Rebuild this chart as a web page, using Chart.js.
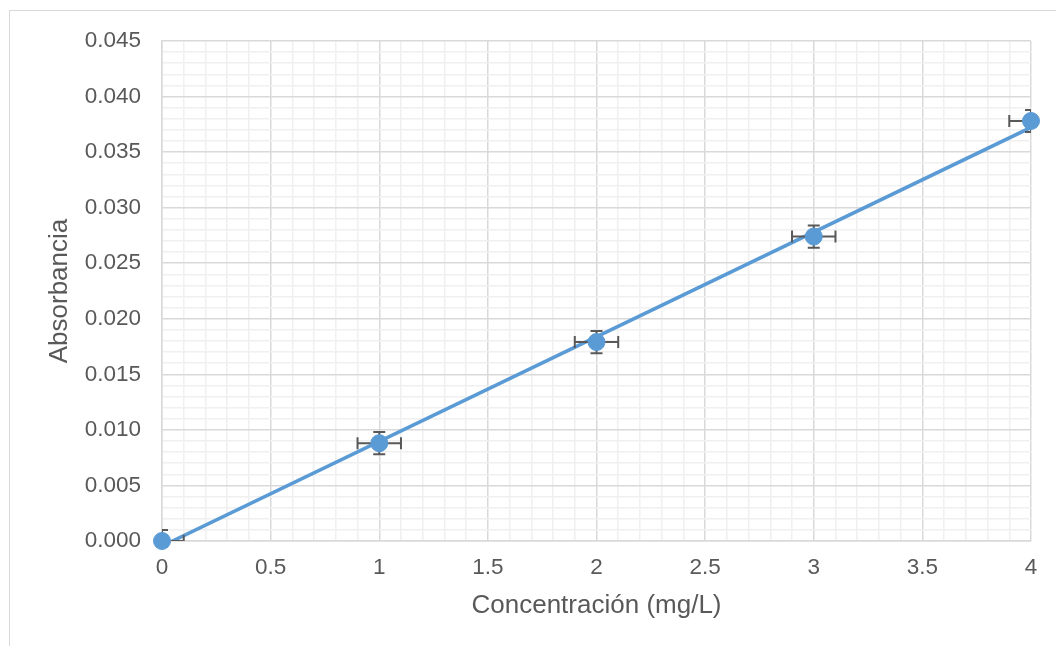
<!DOCTYPE html>
<html>
<head>
<meta charset="utf-8">
<script src="https://cdn.jsdelivr.net/npm/chart.js@4"></script>
<style>
  html, body { margin: 0; padding: 0; background: #ffffff; }
  #wrap { width: 1056px; height: 646px; }
</style>
</head>
<body>
<div id="wrap"><canvas id="grafico" width="1056" height="646"></canvas></div>
<script>
// datos
var concentracion = [0, 1, 2, 3, 4];
var absorbancia = [0.0000, 0.0088, 0.0179, 0.0274, 0.0378];
var errorX = [0.1, 0.1, 0.1, 0.1, 0.1];
var errorY = [0.001, 0.001, 0.001, 0.001, 0.001];
var ticksX = [0, 0.5, 1, 1.5, 2, 2.5, 3, 3.5, 4];
var ticksY = [0, 0.005, 0.01, 0.015, 0.02, 0.025, 0.03, 0.035, 0.04, 0.045];

var corTexto = '#595959';
var fonte = '"Liberation Sans", Arial, sans-serif';

// linea de tendencia (minimos cuadrados sobre los puntos)
function tendencia(xs, ys) {
    var n = xs.length, sx = 0, sy = 0, sxx = 0, sxy = 0;
    for (var i = 0; i < n; i++) {
        sx += xs[i]; sy += ys[i];
        sxx += xs[i] * xs[i]; sxy += xs[i] * ys[i];
    }
    var m = (n * sxy - sx * sy) / (n * sxx - sx * sx);
    var b = (sy - m * sx) / n;
    var x0 = xs[0], x1 = xs[n - 1];
    return [{ x: x0, y: m * x0 + b }, { x: x1, y: m * x1 + b }];
}

var pontos = [];
for (var i = 0; i < concentracion.length; i++) {
    pontos.push({ x: concentracion[i], y: absorbancia[i] });
}

function ehMaior(v, lista) {
    for (var k = 0; k < lista.length; k++) {
        if (Math.abs(v - lista[k]) < 1e-9) return true;
    }
    return false;
}

// borde exterior del grafico
const bordeExterior = {
    id: 'bordeExterior',
    beforeDraw(chart) {
        const ctx = chart.ctx;
        ctx.save();
        ctx.fillStyle = '#ffffff';
        ctx.fillRect(0, 0, chart.width, chart.height);
        ctx.strokeStyle = '#d9d9d9';
        ctx.lineWidth = 1;
        ctx.strokeRect(9.5, 10.5, chart.width + 20, chart.height + 20);
        ctx.restore();
    }
};

// barras de error (X e Y) debajo de los marcadores
const barrasError = {
    id: 'barrasError',
    beforeDatasetDraw(chart, args) {
        if (args.index !== 0) return;
        const ctx = chart.ctx;
        const sx = chart.scales.x, sy = chart.scales.y;
        const area = chart.chartArea;
        ctx.save();
        ctx.beginPath();
        ctx.rect(area.left, area.top, area.right - area.left, area.bottom - area.top);
        ctx.clip();
        ctx.strokeStyle = '#595959';
        ctx.lineWidth = 2;
        const cap = 6;
        for (let i = 0; i < concentracion.length; i++) {
            const px = sx.getPixelForValue(concentracion[i]);
            const py = sy.getPixelForValue(absorbancia[i]);
            const xa = sx.getPixelForValue(concentracion[i] - errorX[i]);
            const xb = sx.getPixelForValue(concentracion[i] + errorX[i]);
            const ya = sy.getPixelForValue(absorbancia[i] - errorY[i]);
            const yb = sy.getPixelForValue(absorbancia[i] + errorY[i]);
            ctx.beginPath();
            ctx.moveTo(xa, py); ctx.lineTo(xb, py);
            ctx.moveTo(xa, py - cap); ctx.lineTo(xa, py + cap);
            ctx.moveTo(xb, py - cap); ctx.lineTo(xb, py + cap);
            ctx.moveTo(px, ya); ctx.lineTo(px, yb);
            ctx.moveTo(px - cap, ya); ctx.lineTo(px + cap, ya);
            ctx.moveTo(px - cap, yb); ctx.lineTo(px + cap, yb);
            ctx.stroke();
        }
        ctx.restore();
    }
};

new Chart(document.getElementById('grafico'), {
    type: 'scatter',
    data: {
        datasets: [{
            label: 'Absorbancia',
            data: pontos,
            backgroundColor: '#5b9bd5',
            borderColor: '#5b9bd5',
            pointRadius: 8.5,
            pointBorderWidth: 1,
            clip: false,
            order: 1
        }, {
            label: 'Lineal',
            data: tendencia(concentracion, absorbancia),
            showLine: true,
            borderColor: '#5b9bd5',
            borderWidth: 3.5,
            pointRadius: 0,
            fill: false,
            order: 2
        }]
    },
    plugins: [bordeExterior, barrasError],
    options: {
        responsive: false,
        animation: false,
        devicePixelRatio: 1,
        layout: { padding: { left: 0, right: 25, top: 41, bottom: 0 } },
        plugins: {
            legend: { display: false },
            tooltip: { enabled: false }
        },
        scales: {
            x: {
                type: 'linear',
                min: 0,
                max: 4,
                afterFit: function (scale) { scale.height = 105; },
                border: { color: '#d9d9d9', width: 1.5 },
                grid: {
                    drawTicks: false,
                    color: function (c) { return ehMaior(c.tick.value, ticksX) ? '#d9d9d9' : '#f0f0f0'; },
                    lineWidth: 1.5
                },
                ticks: {
                    stepSize: 0.1,
                    autoSkip: false,
                    maxRotation: 0,
                    padding: 13,
                    color: corTexto,
                    font: { family: fonte, size: 22.5 },
                    callback: function (v) { return ehMaior(v, ticksX) ? String(v) : ''; }
                },
                title: {
                    display: true,
                    text: 'Concentración (mg/L)',
                    color: corTexto,
                    font: { family: fonte, size: 26 },
                    padding: { top: 0, bottom: 25 }
                }
            },
            y: {
                type: 'linear',
                min: 0,
                max: 0.045,
                afterFit: function (scale) { scale.width = 162; },
                border: { color: '#d9d9d9', width: 1.5 },
                grid: {
                    drawTicks: false,
                    color: function (c) { return ehMaior(c.tick.value, ticksY) ? '#d9d9d9' : '#f0f0f0'; },
                    lineWidth: 1.5
                },
                ticks: {
                    stepSize: 0.001,
                    autoSkip: false,
                    padding: 21,
                    color: corTexto,
                    font: { family: fonte, size: 22.5 },
                    callback: function (v) { return ehMaior(v, ticksY) ? v.toFixed(3) : ''; }
                },
                title: {
                    display: true,
                    text: 'Absorbancia',
                    color: corTexto,
                    font: { family: fonte, size: 26 },
                    padding: { top: 44, bottom: 0 }
                }
            }
        }
    }
});
</script>
</body>
</html>
